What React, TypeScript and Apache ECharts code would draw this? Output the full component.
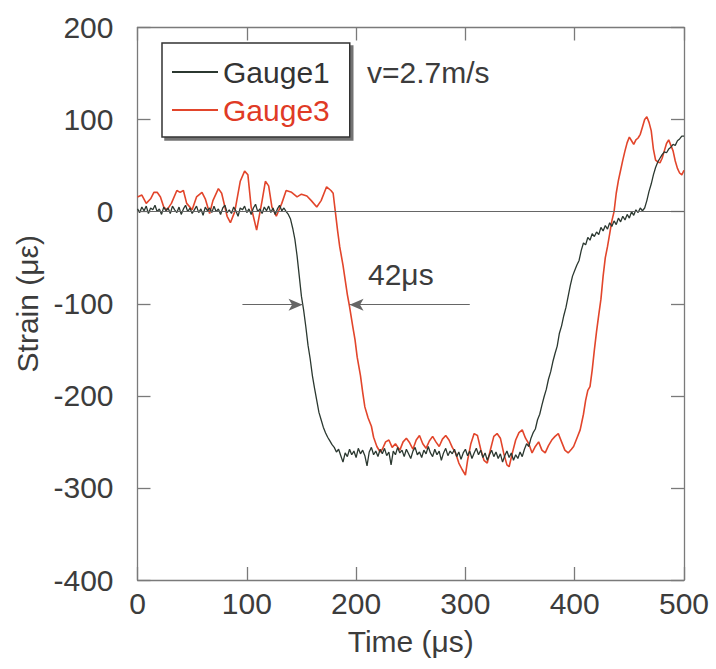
import React, { useEffect, useRef } from "react";
import * as echarts from "echarts";

// Gauge1 (black) : [time µs, strain µε]
const gauge1: number[][] = [
  [0, 3], [2, -1], [4, 5], [6, 1], [8, 6], [10, -2], [12, 4], [14, 2], [16, 7], [18, 0],
  [20, 3], [22, -3], [24, 5], [26, 1], [28, 4], [30, -2], [32, 6], [34, 2], [36, -1], [38, 5],
  [40, -3], [42, 3], [44, 7], [46, 0], [48, 4], [50, -2], [52, 2], [54, 6], [56, -1], [58, 3],
  [60, -4], [62, 5], [64, 1], [66, 4], [68, -1], [70, 6], [72, 0], [74, 3], [76, -3], [78, 4],
  [80, 7], [82, -1], [84, 2], [86, -2], [88, 5], [90, 1], [92, -5], [94, 4], [96, 2], [98, 6],
  [100, -1], [102, 3], [104, -3], [106, 4], [108, 8], [110, 0], [112, 3], [114, -2], [116, 5], [118, 1],
  [120, 6], [122, -1], [124, 4], [126, -3], [128, 3], [130, 7], [132, 1], [134, 4], [136, 0], [138, -3],
  [140, -8], [142, -18], [144, -30], [146, -48], [148, -70], [150, -92], [152, -107], [154, -125], [156, -145], [158, -160],
  [160, -178], [162, -192], [164, -205], [166, -218], [168, -226], [170, -234], [172, -240], [174, -245], [176, -249], [178, -253],
  [180, -256], [182, -261], [184, -258], [186, -265], [188, -272], [190, -262], [192, -266], [194, -258], [196, -264], [198, -260],
  [200, -267], [202, -257], [204, -263], [206, -259], [208, -265], [210, -276], [212, -261], [214, -256], [216, -264], [218, -260],
  [220, -266], [222, -258], [224, -263], [226, -257], [228, -265], [230, -261], [232, -275], [234, -260], [236, -264], [238, -256],
  [240, -262], [242, -259], [244, -266], [246, -258], [248, -263], [250, -268], [252, -260], [254, -256], [256, -264], [258, -261],
  [260, -267], [262, -259], [264, -263], [266, -255], [268, -262], [270, -266], [272, -258], [274, -264], [276, -260], [278, -270],
  [280, -262], [282, -257], [284, -265], [286, -260], [288, -263], [290, -258], [292, -266], [294, -261], [296, -269], [298, -262],
  [300, -258], [302, -265], [304, -260], [306, -268], [308, -262], [310, -257], [312, -264], [314, -259], [316, -267], [318, -262],
  [320, -270], [322, -264], [324, -259], [326, -266], [328, -261], [330, -268], [332, -263], [334, -272], [336, -265], [338, -260],
  [340, -267], [342, -262], [344, -270], [346, -264], [348, -268], [350, -261], [352, -266], [354, -258], [356, -252], [358, -255],
  [360, -246], [362, -240], [364, -236], [366, -226], [368, -220], [370, -210], [372, -201], [374, -193], [376, -182], [378, -174],
  [380, -163], [382, -154], [384, -146], [386, -132], [388, -124], [390, -113], [392, -104], [394, -92], [396, -80], [398, -70],
  [400, -64], [402, -58], [404, -53], [406, -42], [408, -34], [410, -36], [412, -28], [414, -31], [416, -24], [418, -27],
  [420, -22], [422, -25], [424, -17], [426, -21], [428, -15], [430, -19], [432, -12], [434, -16], [436, -10], [438, -14],
  [440, -7], [442, -11], [444, -5], [446, -9], [448, -3], [450, -7], [452, 0], [454, -4], [456, 2], [458, -1],
  [460, 4], [462, 1], [464, 4], [466, 12], [468, 22], [470, 30], [472, 40], [474, 48], [476, 54], [478, 58],
  [480, 62], [482, 65], [484, 64], [486, 68], [488, 70], [490, 73], [492, 72], [494, 77], [496, 79], [498, 82],
  [500, 82],
];

// Gauge3 (red) : [time µs, strain µε]
const gauge3: number[][] = [
  [0, 16], [4, 18], [8, 9], [12, 14], [15, 21], [18, 21], [21, 16], [24, 5], [27, 2], [31, 9],
  [36, 23], [39, 21], [42, 23], [45, 9], [50, 2], [54, 16], [59, 21], [62, 14], [66, -2], [69, 12],
  [74, 25], [77, 20], [82, -5], [85, -12], [89, 0], [94, 33], [98, 44], [101, 40], [104, 5], [109, -20],
  [114, 12], [117, 33], [120, 28], [123, 5], [127, -5], [132, 9], [136, 23], [141, 21], [146, 16], [150, 19],
  [155, 17], [159, 12], [164, 5], [168, 12], [173, 27], [177, 23], [179, 20], [181, 0],
  [183, -20], [185, -38], [188, -58], [190, -74], [192, -90], [194, -103], [197, -125], [199, -139], [201, -158], [204, -178],
  [206, -196], [208, -212], [211, -224], [214, -233], [216, -245], [219, -255], [222, -261], [224, -258],
  [227, -250], [230, -248], [233, -256], [236, -252], [240, -259], [243, -250], [246, -246], [249, -251], [252, -258], [255, -248],
  [258, -243], [261, -252], [264, -257], [267, -249], [270, -244], [273, -250], [276, -255], [279, -247], [282, -243], [285, -248],
  [288, -256], [291, -262], [294, -273], [297, -280], [300, -286], [302, -270], [305, -252], [308, -241], [311, -243], [314, -258],
  [317, -270], [320, -273], [323, -258], [326, -244], [329, -241], [332, -246], [335, -262], [338, -275], [340, -277], [343, -262],
  [346, -248], [349, -240], [352, -237], [355, -246], [358, -252], [361, -262], [364, -255], [367, -250], [370, -259], [373, -262],
  [376, -254], [379, -248], [382, -244], [385, -241], [388, -250], [391, -259], [394, -262], [397, -258], [399, -255],
  [402, -246], [405, -237], [408, -220], [410, -205], [412, -194], [414, -190], [416, -172], [418, -150], [420, -130], [422, -112],
  [424, -95], [426, -70], [428, -50], [430, -38], [432, -24], [434, -10], [436, 0], [438, 20], [440, 34], [442, 45],
  [444, 56], [446, 66], [448, 75], [450, 81], [452, 77], [454, 73], [456, 78], [458, 80], [460, 84], [462, 92],
  [464, 100], [466, 103], [468, 97], [470, 88], [472, 68], [474, 56], [476, 54], [478, 53], [480, 58], [482, 66],
  [484, 74], [486, 78], [488, 72], [490, 66], [492, 55], [494, 47], [496, 42], [498, 40], [500, 45],
];

const xTicks = { min: 0, max: 500, interval: 100 };
const yTicks = { min: -400, max: 200, interval: 100 };

// Time-delay arrows (42 µs) at strain level
const arrowLevel = -101;
const leftArrow = [96, 151];
const rightArrow = [304, 194];

const FONT = "'Liberation Sans', Arial, sans-serif";
const BLACK = "#2b3830";
const RED = "#e2452b";
const AXIS = "#7a7a7a";
const TEXT = "#3c3c3c";

export default function App() {
  const ref = useRef<HTMLDivElement>(null);
  useEffect(() => {
    if (!ref.current) return;
    const chart = echarts.init(ref.current, null, { renderer: "svg" });
    const axisCommon = {
      type: "value" as const,
      axisLine: { show: true, onZero: false, lineStyle: { color: AXIS, width: 1.3 } },
      axisTick: { show: true, inside: true, length: 13, lineStyle: { color: AXIS, width: 1.3 } },
      splitLine: { show: false },
    };
    chart.setOption({
      animation: false,
      backgroundColor: "#ffffff",
      grid: { left: 137.5, right: 32, top: 27.5, bottom: 89, containLabel: false },
      xAxis: [
        {
          ...axisCommon,
          ...xTicks,
          position: "bottom",
          axisLabel: { fontSize: 30, color: TEXT, margin: 8, fontFamily: FONT },
          name: "Time (μs)",
          nameLocation: "middle",
          nameGap: 46,
          nameTextStyle: { fontSize: 30, color: TEXT, fontFamily: FONT },
        },
        {
          ...axisCommon,
          ...xTicks,
          position: "top",
          axisLabel: { show: false },
        },
      ],
      yAxis: [
        {
          ...axisCommon,
          ...yTicks,
          position: "left",
          axisLabel: { fontSize: 30, color: TEXT, margin: 24, fontFamily: FONT },
          name: "Strain (με)",
          nameLocation: "middle",
          nameGap: 92,
          nameTextStyle: { fontSize: 30, color: TEXT, fontFamily: FONT },
        },
        {
          ...axisCommon,
          ...yTicks,
          position: "right",
          axisLabel: { show: false },
        },
      ],
      legend: {
        orient: "vertical",
        left: 162,
        top: 43,
        padding: [14, 20, 12, 10],
        itemGap: 8,
        itemWidth: 46,
        itemHeight: 2,
        icon: "rect",
        backgroundColor: "#ffffff",
        borderColor: "#333",
        borderWidth: 1.5,
        shadowColor: "rgba(0,0,0,0.55)",
        shadowOffsetX: 3,
        shadowOffsetY: 3,
        shadowBlur: 1,
        textStyle: { fontSize: 30, fontFamily: FONT, color: TEXT },
        data: [
          { name: "Gauge1", textStyle: { color: "#333" } },
          { name: "Gauge3", textStyle: { color: "#e03a25" } },
        ],
      },
      graphic: [
        {
          type: "text",
          left: 367,
          top: 57,
          style: { text: "v=2.7m/s", fontSize: 30, fontFamily: FONT, fill: TEXT },
        },
        {
          type: "text",
          left: 368,
          top: 259,
          style: { text: "42μs", fontSize: 30, fontFamily: FONT, fill: TEXT },
        },
      ],
      series: [
        {
          name: "Gauge3",
          type: "line",
          data: gauge3,
          showSymbol: false,
          symbol: "none",
          color: RED,
          lineStyle: { color: RED, width: 1.6 },
          z: 2,
        },
        {
          name: "Gauge1",
          type: "line",
          data: gauge1,
          showSymbol: false,
          symbol: "none",
          color: BLACK,
          lineStyle: { color: BLACK, width: 1.3 },
          z: 3,
          markLine: {
            silent: true,
            symbol: "none",
            label: { show: false },
            lineStyle: { color: "#666", width: 1, type: "solid" },
            data: [
              [
                { xAxis: xTicks.min, yAxis: 0, symbol: "none" },
                { xAxis: xTicks.max, yAxis: 0, symbol: "none" },
              ],
              [
                { coord: [leftArrow[0], arrowLevel], symbol: "none" },
                { coord: [leftArrow[1], arrowLevel], symbol: "arrow", symbolSize: [9, 14] },
              ],
              [
                { coord: [rightArrow[0], arrowLevel], symbol: "none" },
                { coord: [rightArrow[1], arrowLevel], symbol: "arrow", symbolSize: [9, 14] },
              ],
            ],
          },
        },
      ],
    });
    return () => chart.dispose();
  }, []);
  return (
    <div
      ref={ref}
      style={{ position: "fixed", left: 0, top: 0, width: 716, height: 669, background: "#fff" }}
    />
  );
}
